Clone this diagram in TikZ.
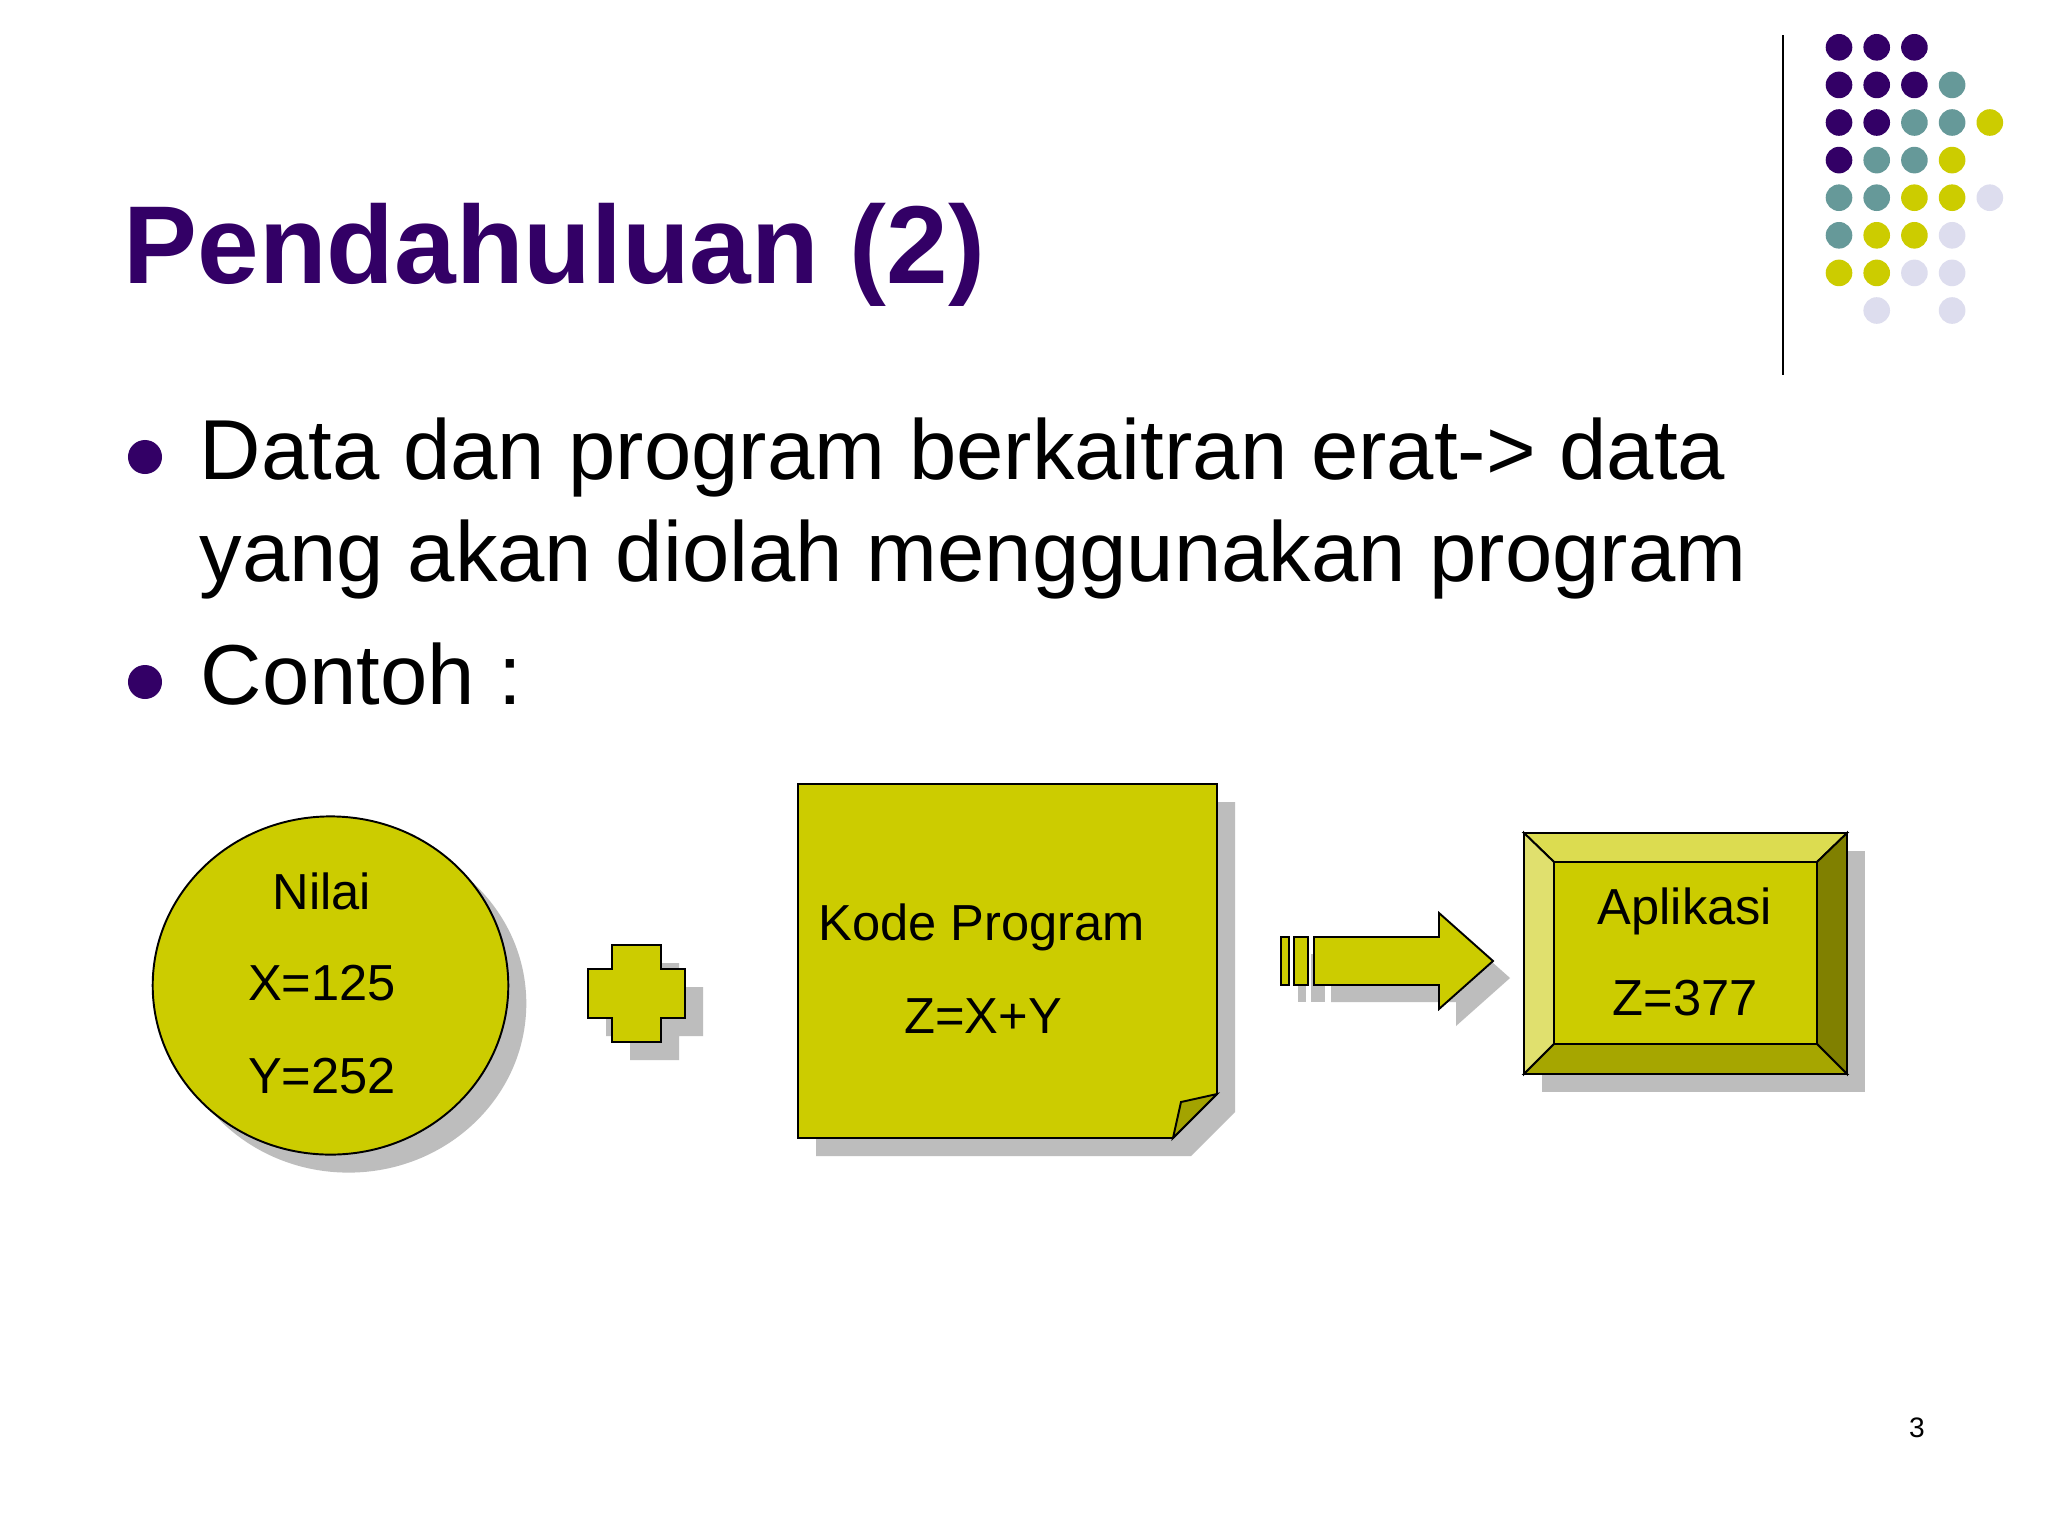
\documentclass[tikz,border=0pt]{standalone}
\usepackage{fontspec}
\setmainfont{Liberation Sans}
\definecolor{dpur}{HTML}{330066}
\definecolor{dteal}{HTML}{669999}
\definecolor{dyel}{HTML}{CCCC00}
\definecolor{dlav}{HTML}{DDDDEE}
\definecolor{shgray}{HTML}{BDBDBD}
\definecolor{bvtop}{HTML}{DCDC50}
\definecolor{bvleft}{HTML}{E0E06E}
\definecolor{bvright}{HTML}{808000}
\definecolor{bvbot}{HTML}{A6A600}
\definecolor{folddark}{HTML}{A3A300}
\tikzset{
  shp/.style={fill=dyel, draw=black, line width=0.55pt, line join=miter},
  shd/.style={fill=shgray},
  dtxt/.style={font=\fontsize{14.4}{17}\selectfont, inner sep=0pt, anchor=base},
  btxt/.style={font=\fontsize{24.2}{29}\selectfont, inner sep=0pt, anchor=base west},
}
\begin{document}
\begin{tikzpicture}[x=0.01cm,y=-0.01cm]
\useasboundingbox (0,0) rectangle (2048,1536);
\fill[white] (0,0) rectangle (2048,1536);

% title
\node[anchor=base west, inner sep=0pt, text=dpur, font=\fontsize{31.5}{36}\selectfont\bfseries] (title) at (123,283) {Pendahuluan (2)};

% decorative dots and rule
\draw[line width=0.6pt] (1783,35) -- (1783,375);
\foreach \c/\r/\col in {0/0/dpur,1/0/dpur,2/0/dpur,
  0/1/dpur,1/1/dpur,2/1/dpur,3/1/dteal,
  0/2/dpur,1/2/dpur,2/2/dteal,3/2/dteal,4/2/dyel,
  0/3/dpur,1/3/dteal,2/3/dteal,3/3/dyel,
  0/4/dteal,1/4/dteal,2/4/dyel,3/4/dyel,4/4/dlav,
  0/5/dteal,1/5/dyel,2/5/dyel,3/5/dlav,
  0/6/dyel,1/6/dyel,2/6/dlav,3/6/dlav,
  1/7/dlav,3/7/dlav}
  \fill[\col] ({1839+37.7*\c},{47.3+37.6*\r}) circle (0.133cm);

% bullets
\fill[dpur] (145,457) circle (0.17cm);
\fill[dpur] (145,682) circle (0.17cm);
\node[btxt] (b1a) at (199,479) {Data dan program berkaitran erat-> data};
\node[btxt] (b1b) at (199,581) {yang akan diolah menggunakan program};
\node[btxt] (b2) at (200,704) {Contoh :};

% circle "Nilai"
\fill[shd] (348.5,1003.5) ellipse [x radius=1.777cm, y radius=1.69cm];
\filldraw[shp] (330.5,985.5) ellipse [x radius=1.777cm, y radius=1.69cm];
\node[dtxt] (nilai) at (322,909) {Nilai};
\node[dtxt] (xval) at (322,1000) {X=125};
\node[dtxt] (yval) at (322,1093) {Y=252};

% plus sign
\begin{scope}[shift={(18,18)}]
\fill[shd] (612,945) -- (661,945) -- (661,969) -- (685,969) -- (685,1018) -- (661,1018) -- (661,1042) -- (612,1042) -- (612,1018) -- (588,1018) -- (588,969) -- (612,969) -- cycle;
\end{scope}
\filldraw[shp] (612,945) -- (661,945) -- (661,969) -- (685,969) -- (685,1018) -- (661,1018) -- (661,1042) -- (612,1042) -- (612,1018) -- (588,1018) -- (588,969) -- (612,969) -- cycle;

% note page
\begin{scope}[shift={(18,18)}]
\fill[shd] (798,784) -- (1217,784) -- (1217,1094) -- (1173,1138) -- (798,1138) -- cycle;
\end{scope}
\filldraw[shp] (798,784) -- (1217,784) -- (1217,1094) -- (1173,1138) -- (798,1138) -- cycle;
\filldraw[shp, fill=folddark] (1173,1138) -- (1217,1094) -- (1181,1102) -- cycle;
\node[anchor=base west, inner sep=0pt, font=\fontsize{14.4}{17}\selectfont] (kode) at (818,940) {Kode Program};
\node[dtxt] (zxy) at (983,1033) {Z=X+Y};

% block arrow
\begin{scope}[shift={(17,17)}]
\fill[shd] (1281,937) rectangle (1289,985);
\fill[shd] (1294,937) rectangle (1308,985);
\fill[shd] (1314,937) -- (1439,937) -- (1439,913) -- (1493,961) -- (1439,1009) -- (1439,985) -- (1314,985) -- cycle;
\end{scope}
\filldraw[shp] (1281,937) rectangle (1289,985);
\filldraw[shp] (1294,937) rectangle (1308,985);
\filldraw[shp] (1314,937) -- (1439,937) -- (1439,913) -- (1493,961) -- (1439,1009) -- (1439,985) -- (1314,985) -- cycle;

% bevel box
\fill[shd] (1542,851) rectangle (1865,1092);
\filldraw[shp, fill=bvtop] (1524,833) -- (1847,833) -- (1817,862) -- (1554,862) -- cycle;
\filldraw[shp, fill=bvleft] (1524,833) -- (1554,862) -- (1554,1044) -- (1524,1074) -- cycle;
\filldraw[shp, fill=bvright] (1847,833) -- (1847,1074) -- (1817,1044) -- (1817,862) -- cycle;
\filldraw[shp, fill=bvbot] (1524,1074) -- (1847,1074) -- (1817,1044) -- (1554,1044) -- cycle;
\filldraw[shp] (1554,862) rectangle (1817,1044);
\draw[line width=0.55pt] (1524,833) rectangle (1847,1074);
\node[dtxt] (apl) at (1685,924) {Aplikasi};
\node[dtxt] (zval) at (1685,1015) {Z=377};

% page number
\node[anchor=base, inner sep=0pt, font=\fontsize{8}{10}\selectfont] (pnum) at (1917,1437) {3};
\end{tikzpicture}
\end{document}
